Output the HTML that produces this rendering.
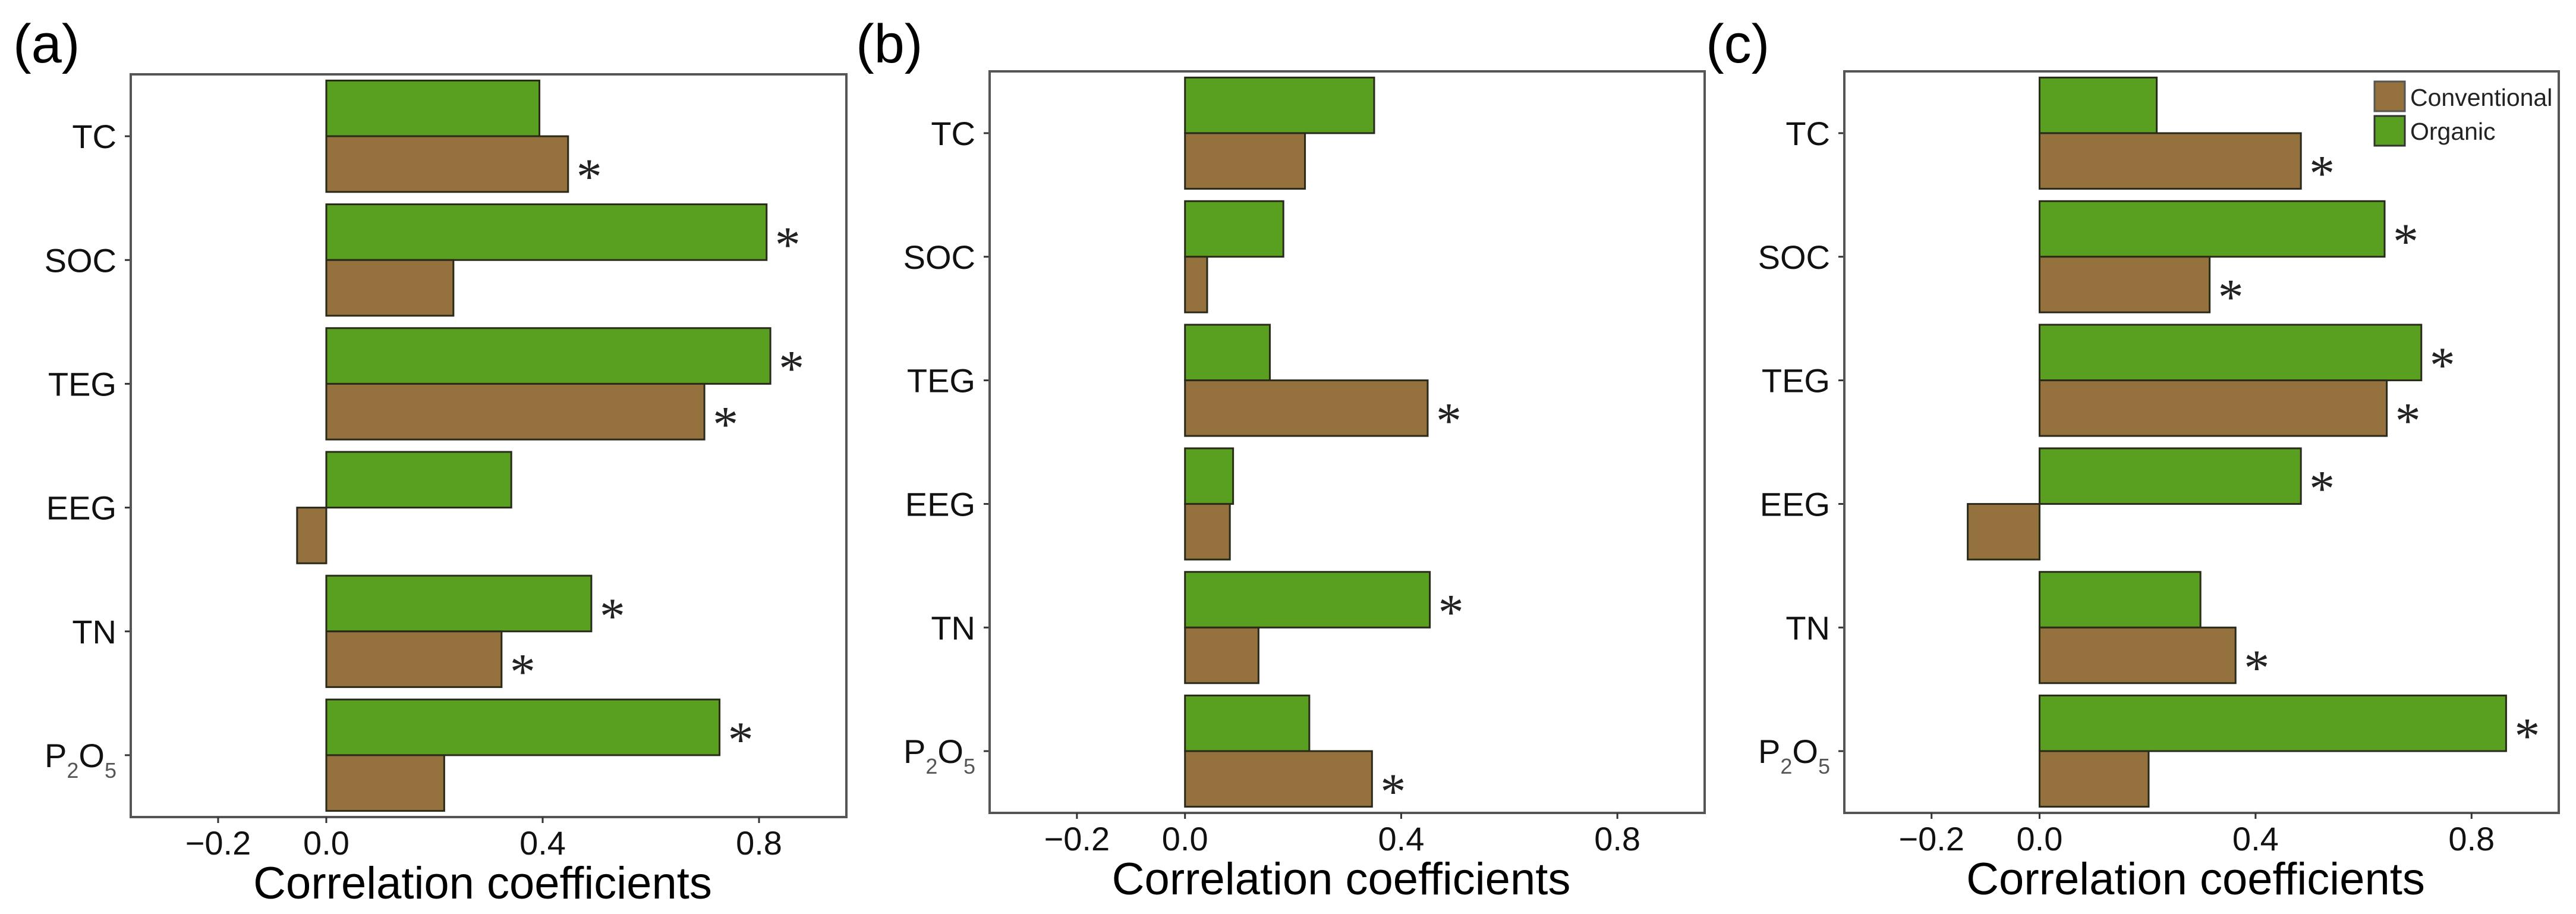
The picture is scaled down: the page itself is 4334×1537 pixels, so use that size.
<!DOCTYPE html>
<html><head><meta charset="utf-8"><style>
html,body{margin:0;padding:0;background:#fff;}
svg{display:block;font-family:"Liberation Sans",Arial,sans-serif;}
</style></head><body>
<svg id="fig" width="4334" height="1537" viewBox="0 0 4334 1537" xmlns="http://www.w3.org/2000/svg"></svg>
<script>
const categories = ["TC","SOC","TEG","EEG","TN","P2O5"];
const xTicks = [-0.2, 0.0, 0.4, 0.8];
const xTickLabels = ["\u22120.2","0.0","0.4","0.8"];
const organicA = [0.394, 0.814, 0.821, 0.342, 0.490, 0.727];
const conventionalA = [0.447, 0.235, 0.699, -0.054, 0.324, 0.218];
const organicSigA = [0,1,1,0,1,1];
const conventionalSigA = [1,0,1,0,1,0];
const organicB = [0.350, 0.182, 0.157, 0.089, 0.453, 0.230];
const conventionalB = [0.222, 0.041, 0.449, 0.083, 0.136, 0.346];
const organicSigB = [0,0,0,0,1,0];
const conventionalSigB = [0,0,1,0,0,1];
const organicC = [0.217, 0.639, 0.707, 0.484, 0.298, 0.864];
const conventionalC = [0.484, 0.315, 0.643, -0.133, 0.363, 0.202];
const organicSigC = [0,1,1,1,0,1];
const conventionalSigC = [1,1,1,0,1,0];

const NS="http://www.w3.org/2000/svg";
const svg=document.getElementById('fig');
function mk(tag,attrs,parent){const e=document.createElementNS(NS,tag);for(const k in attrs)e.setAttribute(k,attrs[k]);(parent||svg).appendChild(e);return e;}

const GREEN="#5aa020", BROWN="#94713d";
const domain=[-0.3615,0.9615];

function panel(cfg){
  const g=mk('g',{});
  
  
  const L=cfg.left,R=cfg.right,T=cfg.top,B=cfg.bottom;
  const x=v=>L+(v-domain[0])/(domain[1]-domain[0])*(R-L);
  const n=categories.length;
  const step=(B-T)/n;
  const yc=i=>T+step*(i+0.5);
  const half=step*0.45;
  const lab=mk('text',{x:cfg.labelX,y:105,'font-size':92,fill:'#000'},g);
  lab.textContent='('+cfg.id+')';
  
  
  for(let i=0;i<n;i++){
    const c=yc(i);
    const vo=cfg.org[i], vc=cfg.conv[i];
    const ro=mk('rect',{x:Math.min(x(0),x(vo)),y:c-half,width:Math.abs(x(vo)-x(0)),height:half,fill:GREEN,stroke:'#2a2a1a','stroke-width':3},g);
    
    
    const rc=mk('rect',{x:Math.min(x(0),x(vc)),y:c,width:Math.abs(x(vc)-x(0)),height:half,fill:BROWN,stroke:'#2a2a1a','stroke-width':3},g);
    
    
    if(cfg.orgSig[i]){
      const s=mk('text',{x:x(Math.max(vo,0))+14,y:c-half/2+50,'font-size':86,fill:'#222','font-family':'"Liberation Serif",serif'},g);
      s.textContent='*';
      
      
    }
    if(cfg.convSig[i]){
      const s=mk('text',{x:x(Math.max(vc,0))+14,y:c+half/2+50,'font-size':86,fill:'#222','font-family':'"Liberation Serif",serif'},g);
      s.textContent='*';
      
      
    }
    const tk=mk('line',{x1:L-10,x2:L,y1:c,y2:c,stroke:'#333','stroke-width':3},g);
    
    
    const t=mk('text',{x:L-24,y:c+20,'font-size':56,'text-anchor':'end',fill:'#111'},g);
    
    
    if(categories[i]==='P2O5'){
      t.innerHTML='P<tspan font-size="36" fill="#555" dy="18">2</tspan><tspan dy="-18">O</tspan><tspan font-size="36" fill="#555" dy="18">5</tspan>';
    } else t.textContent=categories[i];
  }
  const fr=mk('rect',{x:L,y:T,width:R-L,height:B-T,fill:'none',stroke:'#555','stroke-width':4},g);
  
  
  xTicks.forEach((v,k)=>{
    const tk=mk('line',{x1:x(v),x2:x(v),y1:B,y2:B+10,stroke:'#333','stroke-width':3},g);
    
    
    const t=mk('text',{x:x(v),y:B+63,'font-size':56,'text-anchor':'middle',fill:'#111'},g);
    t.textContent=xTickLabels[k];
    
    
  });
  const xt=mk('text',{x:(L+R)/2-10,y:B+137,'font-size':76,'text-anchor':'middle',fill:'#000'},g);
  xt.textContent='Correlation coefficients';
  
  
  return g;
}

panel({id:'a',left:220,right:1424,top:125,bottom:1374,labelX:22,org:organicA,conv:conventionalA,orgSig:organicSigA,convSig:conventionalSigA});
panel({id:'b',left:1665,right:2868,top:120,bottom:1367,labelX:1440,org:organicB,conv:conventionalB,orgSig:organicSigB,convSig:conventionalSigB});
panel({id:'c',left:3103,right:4305,top:120,bottom:1367,labelX:2870,org:organicC,conv:conventionalC,orgSig:organicSigC,convSig:conventionalSigC});

const lg=mk('g',{});


const lb1=mk('rect',{x:3995,y:137,width:51,height:50,fill:BROWN,stroke:'#555','stroke-width':3},lg);


const lt1=mk('text',{x:4055,y:178,'font-size':41,fill:'#222'},lg);
lt1.textContent='Conventional';


const lb2=mk('rect',{x:3995,y:195,width:51,height:50,fill:GREEN,stroke:'#333','stroke-width':3},lg);


const lt2=mk('text',{x:4055,y:235,'font-size':41,fill:'#222'},lg);
lt2.textContent='Organic';


</script>
</body></html>
